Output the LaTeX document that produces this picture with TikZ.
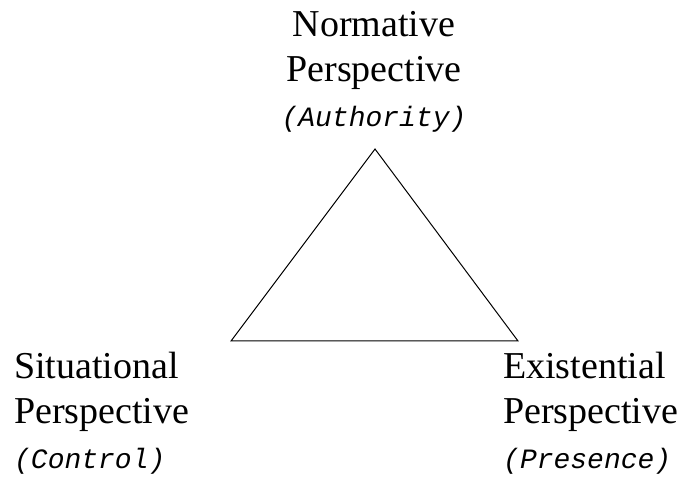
\documentclass[tikz,border=0pt]{standalone}
\usepackage{fontspec}
\setmainfont{Liberation Serif}
\newfontfamily\monofont{Liberation Mono}
\usetikzlibrary{positioning}

\begin{document}
\begin{tikzpicture}[x=1pt, y=-1pt,
        persp/.style={inner sep=0pt, font=\fontsize{38}{45}\selectfont},
        role/.style={font=\monofont\itshape\fontsize{28}{45}\selectfont},
        edge/.style={draw=black, line width=1pt},
      ]
      \useasboundingbox (0,0) rectangle (689,481);
      % Three perspectives
      \node [persp, align=center, anchor=north] (normative) at (374, 11) {Normative\\Perspective\\{\monofont\itshape\fontsize{28}{45}\selectfont (Authority)}};
      \node [persp, align=left, anchor=north west] (situational) at (14, 352) {Situational\\Perspective\\{\monofont\itshape\fontsize{28}{45}\selectfont (Control)}};
      \node [persp, align=left, anchor=north west] (existential) at (503, 352) {Existential\\Perspective\\{\monofont\itshape\fontsize{28}{45}\selectfont (Presence)}};
      % Triangle
      \coordinate (top) at (375, 149);
      \coordinate (left) at (231, 341);
      \coordinate (right) at (518, 341);
      \draw [edge] (top) -- (left) -- (right) -- cycle;
    \end{tikzpicture}
\end{document}
